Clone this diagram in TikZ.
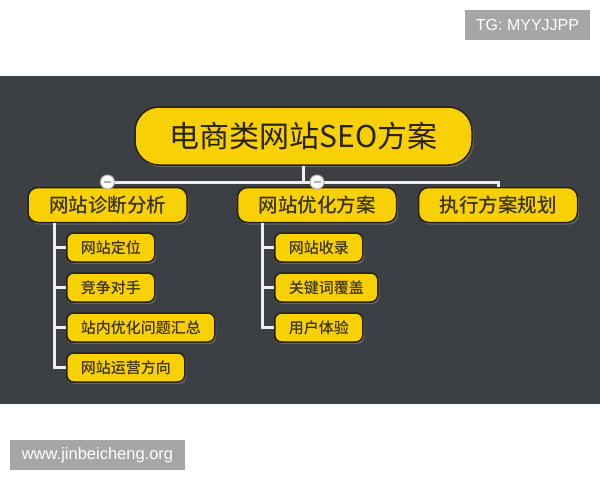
\documentclass[tikz,border=0pt]{standalone}
\usepackage{fontspec}
\setmainfont{Noto Sans CJK SC}
\newfontfamily\midfont{Noto Sans CJK SC Medium}
\newfontfamily\latinfont{Liberation Sans}
\usetikzlibrary{shadows}
\definecolor{panel}{RGB}{60,63,67}
\definecolor{tile}{RGB}{248,208,6}
\definecolor{rim}{RGB}{40,34,8}
\definecolor{ink}{RGB}{58,50,16}
\definecolor{wire}{RGB}{238,238,238}
\definecolor{tagfill}{RGB}{166,166,166}

\begin{document}
\begin{tikzpicture}[x=1pt,y=-1pt,
    box/.style={draw=rim,line width=1.5pt,fill=tile,text=ink,inner sep=0pt,
        drop shadow={shadow xshift=1.5pt,shadow yshift=-2pt,opacity=.6}},
    root/.style={box,font=\fontsize{30}{30}\selectfont,text=rim,minimum width=337pt,minimum height=58pt,rounded corners=24pt},
    branch/.style={box,font=\midfont\fontsize{19.5}{20}\selectfont,minimum width=159pt,minimum height=35pt,rounded corners=10pt},
    leaf/.style={box,font=\midfont\fontsize{15}{15}\selectfont,inner xsep=14pt,minimum height=29pt,anchor=west,rounded corners=7pt},
    link/.style={draw=wire,line width=3pt},
    fold/.style={circle,draw=gray!60,fill=white,line width=1pt,minimum size=14pt,inner sep=0pt},
    tagbox/.style={fill=tagfill,text=white,minimum height=30pt,inner sep=0pt}]
        \useasboundingbox (0,0) rectangle (600,480);
        \fill[panel] (0,76) rectangle (600,404);

        \node[root] (seo) at (303.5,136) {电商类网站SEO方案};
        \node[branch] (diag) at (107.5,205) {网站诊断分析};
        \node[branch] (opt) at (317,205) {网站优化方案};
        \node[branch] (plan) at (498,205) {执行方案规划};

        \node[leaf] (d1) at (66,247.5) {网站定位};
        \node[leaf] (d2) at (66,287.5) {竞争对手};
        \node[leaf] (d3) at (66,327.5) {站内优化问题汇总};
        \node[leaf] (d4) at (66,367.5) {网站运营方向};
        \node[leaf] (o1) at (274,247.5) {网站收录};
        \node[leaf] (o2) at (274,287.5) {关键词覆盖};
        \node[leaf] (o3) at (274,327.5) {用户体验};

        \coordinate (bus) at (seo.south |- 0,182);
        \draw[link] (seo.south) -- (bus);
        \draw[link] (diag.north) |- (bus) -| (plan.north);
        \draw[link] (bus) -| (opt.north);
        \foreach \n in {d1,d2,d3,d4}
            \draw[link] ([xshift=27pt]diag.south west) |- (\n.west);
        \foreach \n in {o1,o2,o3}
            \draw[link] ([xshift=26pt]opt.south west) |- (\n.west);

        \foreach \b in {diag,opt} {
            \node[fold] (f\b) at (\b.north |- bus) {};
            \draw[gray!60,line width=1.2pt] ([xshift=-3.5pt]f\b.center) -- ([xshift=3.5pt]f\b.center);
        }

        \node[tagbox,minimum width=125pt,font=\latinfont\fontsize{16}{16}\selectfont] (tg) at (527.5,25) {TG: MYYJJPP};
        \node[tagbox,minimum width=175pt,font=\latinfont\fontsize{16.5}{16.5}\selectfont] (web) at (97.5,455) {www.jinbeicheng.org};
\end{tikzpicture}
\end{document}
